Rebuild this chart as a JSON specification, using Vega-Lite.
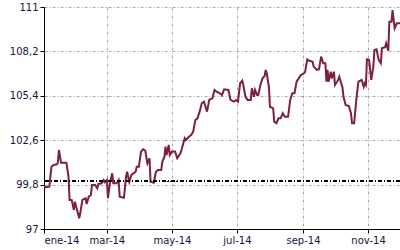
{
 "$schema": "https://vega.github.io/schema/vega-lite/v6.json",
 "width": 356, "height": 222,
 "autosize": {"type": "none"},
 "padding": {"left": 44, "top": 7, "right": 0, "bottom": 21},
 "data": {"values": [
{"date":"2014-01-01","value":99.78},{"date":"2014-01-02","value":99.63},{"date":"2014-01-06","value":99.67},{"date":"2014-01-08","value":100.93},{"date":"2014-01-10","value":101.04},{"date":"2014-01-13","value":101.08},{"date":"2014-01-14","value":101.18},{"date":"2014-01-15","value":101.98},{"date":"2014-01-17","value":101.18},{"date":"2014-01-22","value":101.18},{"date":"2014-01-24","value":100.30},{"date":"2014-01-25","value":98.83},{"date":"2014-01-27","value":98.83},{"date":"2014-01-29","value":98.20},{"date":"2014-01-30","value":98.72},{"date":"2014-02-01","value":98.20},{"date":"2014-02-03","value":97.68},{"date":"2014-02-04","value":97.99},{"date":"2014-02-06","value":98.83},{"date":"2014-02-09","value":98.94},{"date":"2014-02-10","value":98.58},{"date":"2014-02-12","value":99.04},{"date":"2014-02-14","value":99.14},{"date":"2014-02-15","value":99.78},{"date":"2014-02-18","value":99.78},{"date":"2014-02-20","value":99.57},{"date":"2014-02-21","value":99.84},{"date":"2014-02-24","value":99.88},{"date":"2014-02-26","value":100.09},{"date":"2014-02-27","value":99.95},{"date":"2014-03-01","value":100.09},{"date":"2014-03-02","value":98.94},{"date":"2014-03-04","value":99.98},{"date":"2014-03-06","value":100.51},{"date":"2014-03-07","value":99.88},{"date":"2014-03-10","value":99.88},{"date":"2014-03-12","value":100.09},{"date":"2014-03-13","value":99.04},{"date":"2014-03-17","value":98.97},{"date":"2014-03-19","value":100.30},{"date":"2014-03-20","value":100.61},{"date":"2014-03-22","value":99.98},{"date":"2014-03-24","value":100.41},{"date":"2014-03-28","value":100.61},{"date":"2014-03-29","value":100.93},{"date":"2014-03-31","value":100.93},{"date":"2014-04-02","value":101.88},{"date":"2014-04-04","value":102.03},{"date":"2014-04-06","value":101.94},{"date":"2014-04-08","value":101.14},{"date":"2014-04-10","value":101.46},{"date":"2014-04-11","value":99.98},{"date":"2014-04-14","value":99.92},{"date":"2014-04-16","value":100.61},{"date":"2014-04-18","value":100.72},{"date":"2014-04-21","value":100.72},{"date":"2014-04-22","value":101.24},{"date":"2014-04-24","value":101.56},{"date":"2014-04-25","value":102.19},{"date":"2014-04-26","value":101.67},{"date":"2014-04-28","value":102.30},{"date":"2014-04-29","value":101.67},{"date":"2014-05-01","value":101.88},{"date":"2014-05-04","value":101.88},{"date":"2014-05-06","value":101.46},{"date":"2014-05-09","value":101.77},{"date":"2014-05-10","value":101.98},{"date":"2014-05-13","value":102.72},{"date":"2014-05-14","value":102.61},{"date":"2014-05-17","value":102.82},{"date":"2014-05-19","value":102.93},{"date":"2014-05-21","value":103.14},{"date":"2014-05-23","value":103.87},{"date":"2014-05-25","value":103.98},{"date":"2014-05-27","value":104.40},{"date":"2014-05-29","value":104.93},{"date":"2014-05-31","value":105.03},{"date":"2014-06-02","value":104.61},{"date":"2014-06-03","value":104.40},{"date":"2014-06-05","value":105.14},{"date":"2014-06-08","value":105.24},{"date":"2014-06-10","value":105.77},{"date":"2014-06-12","value":105.66},{"date":"2014-06-15","value":105.56},{"date":"2014-06-17","value":105.45},{"date":"2014-06-19","value":105.81},{"date":"2014-06-23","value":105.77},{"date":"2014-06-25","value":105.14},{"date":"2014-06-28","value":105.03},{"date":"2014-06-30","value":105.14},{"date":"2014-07-02","value":105.03},{"date":"2014-07-04","value":106.19},{"date":"2014-07-06","value":106.35},{"date":"2014-07-07","value":106.08},{"date":"2014-07-09","value":105.34},{"date":"2014-07-11","value":105.14},{"date":"2014-07-14","value":105.14},{"date":"2014-07-15","value":105.87},{"date":"2014-07-17","value":105.34},{"date":"2014-07-18","value":105.77},{"date":"2014-07-20","value":105.45},{"date":"2014-07-21","value":105.45},{"date":"2014-07-23","value":106.08},{"date":"2014-07-25","value":106.50},{"date":"2014-07-27","value":106.65},{"date":"2014-07-28","value":107.03},{"date":"2014-07-29","value":106.82},{"date":"2014-07-31","value":105.97},{"date":"2014-08-01","value":104.71},{"date":"2014-08-04","value":104.61},{"date":"2014-08-05","value":103.77},{"date":"2014-08-07","value":103.67},{"date":"2014-08-09","value":103.98},{"date":"2014-08-11","value":103.98},{"date":"2014-08-13","value":104.30},{"date":"2014-08-15","value":104.08},{"date":"2014-08-18","value":104.08},{"date":"2014-08-20","value":105.14},{"date":"2014-08-22","value":105.56},{"date":"2014-08-24","value":105.56},{"date":"2014-08-26","value":106.29},{"date":"2014-08-28","value":106.50},{"date":"2014-08-30","value":106.71},{"date":"2014-09-02","value":106.82},{"date":"2014-09-03","value":106.92},{"date":"2014-09-05","value":107.70},{"date":"2014-09-07","value":107.61},{"date":"2014-09-10","value":107.55},{"date":"2014-09-11","value":107.24},{"date":"2014-09-14","value":107.03},{"date":"2014-09-16","value":107.07},{"date":"2014-09-18","value":107.87},{"date":"2014-09-20","value":107.45},{"date":"2014-09-22","value":107.45},{"date":"2014-09-23","value":106.29},{"date":"2014-09-24","value":107.03},{"date":"2014-09-25","value":106.29},{"date":"2014-09-27","value":106.92},{"date":"2014-09-28","value":106.50},{"date":"2014-09-30","value":106.92},{"date":"2014-10-01","value":106.08},{"date":"2014-10-04","value":106.40},{"date":"2014-10-05","value":106.60},{"date":"2014-10-08","value":105.94},{"date":"2014-10-09","value":105.34},{"date":"2014-10-11","value":104.82},{"date":"2014-10-14","value":104.76},{"date":"2014-10-16","value":104.30},{"date":"2014-10-17","value":103.67},{"date":"2014-10-19","value":103.67},{"date":"2014-10-21","value":105.14},{"date":"2014-10-23","value":106.29},{"date":"2014-10-26","value":106.40},{"date":"2014-10-28","value":105.97},{"date":"2014-10-29","value":106.19},{"date":"2014-10-30","value":106.08},{"date":"2014-10-31","value":107.70},{"date":"2014-11-02","value":107.66},{"date":"2014-11-04","value":106.40},{"date":"2014-11-06","value":107.24},{"date":"2014-11-07","value":108.29},{"date":"2014-11-09","value":108.33},{"date":"2014-11-11","value":107.66},{"date":"2014-11-13","value":107.45},{"date":"2014-11-14","value":108.40},{"date":"2014-11-17","value":108.46},{"date":"2014-11-18","value":108.71},{"date":"2014-11-20","value":108.24},{"date":"2014-11-21","value":110.07},{"date":"2014-11-23","value":110.07},{"date":"2014-11-24","value":110.81},{"date":"2014-11-26","value":109.66},{"date":"2014-11-28","value":109.97},{"date":"2014-12-01","value":109.97}
 ]},
 "layer": [
  {
   "mark": {"type": "line", "color": "#7d1f40", "strokeWidth": 2, "clip": true},
   "encoding": {
    "x": {"field": "date", "type": "temporal", "scale": {"type": "utc"},
          "axis": {"title": null, "tickCount": {"interval": "month", "step": 2},
                   "labelExpr": "['ene','feb','mar','abr','may','jun','jul','ago','sep','oct','nov','dic'][utcmonth(datum.value)] + '-' + utcFormat(datum.value, '%y')"}},
    "y": {"field": "value", "type": "quantitative", "scale": {"domain": [97, 111], "nice": false, "zero": false},
          "axis": {"title": null, "values": [97, 99.8, 102.6, 105.4, 108.2, 111],
                   "labelExpr": "replace(format(datum.value, '~g'), '.', ',')"}}
   }
  },
  {
   "mark": {"type": "rule", "color": "#000000", "strokeDash": [4, 2, 1, 2], "strokeWidth": 1},
   "encoding": {"y": {"datum": 100, "type": "quantitative"}}
  }
 ],
 "config": {
  "view": {"stroke": null},
  "axis": {
   "domainColor": "#000000", "domainWidth": 1,
   "tickColor": "#000000", "tickSize": 4, "tickWidth": 1,
   "labelColor": "#14143c", "labelFont": "DejaVu Sans", "labelFontSize": 10, "labelPadding": 2,
   "gridColor": "#a3ada3", "gridDash": [3, 2, 1, 2], "gridWidth": 1, "gridOpacity": 1
  }
 }
}
